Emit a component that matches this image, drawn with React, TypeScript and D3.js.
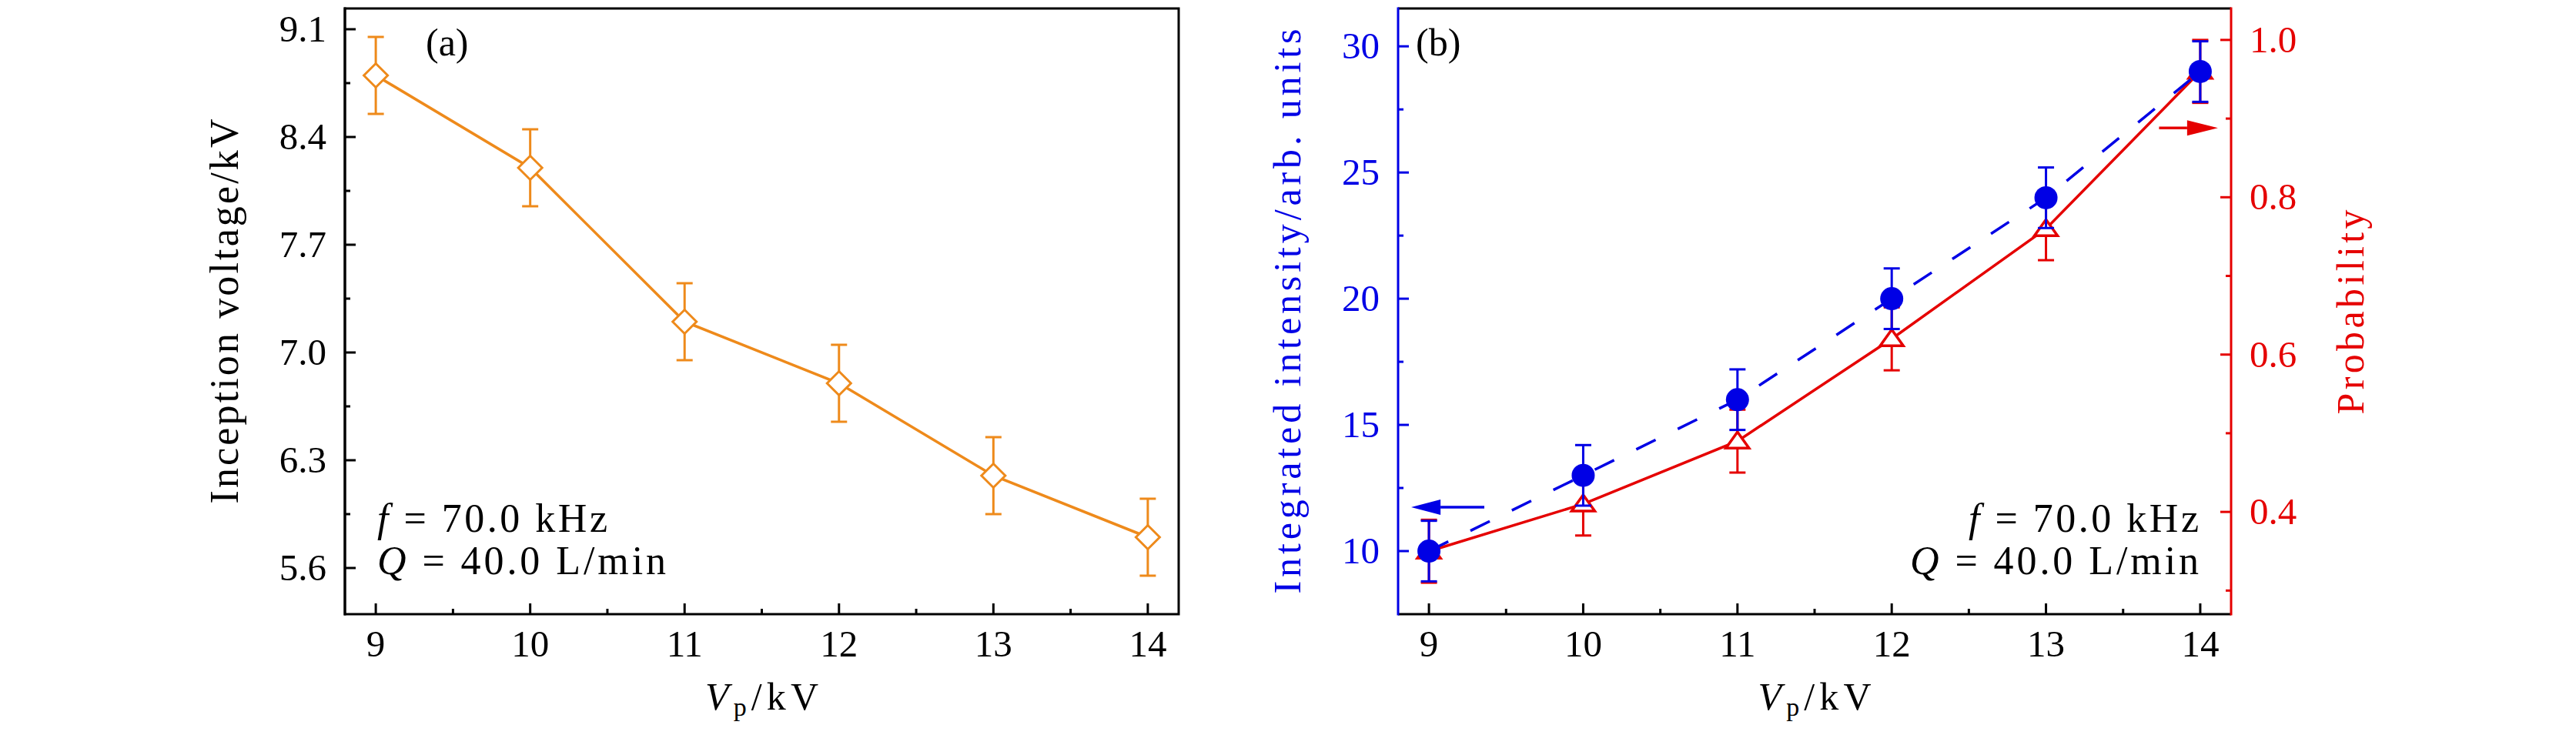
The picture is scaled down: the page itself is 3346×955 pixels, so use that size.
import * as d3 from 'd3';

const voltages = [9, 10, 11, 12, 13, 14];
const inceptionV = [8.8, 8.2, 7.2, 6.8, 6.2, 5.8];
const inceptionErr = [0.25, 0.25, 0.25, 0.25, 0.25, 0.25];
const intensity = [10, 13, 16, 20, 24, 29];
const intensityErr = [1.2, 1.2, 1.2, 1.2, 1.2, 1.2];
const probability = [0.35, 0.41, 0.49, 0.62, 0.76, 0.96];
const probabilityErr = [0.04, 0.04, 0.04, 0.04, 0.04, 0.04];

const xTicks = [9, 10, 11, 12, 13, 14];
const xMinor = [9.5, 10.5, 11.5, 12.5, 13.5];
const aTicks = [5.6, 6.3, 7.0, 7.7, 8.4, 9.1];
const aMinor = [5.95, 6.65, 7.35, 8.05, 8.75];
const bLeftTicks = [10, 15, 20, 25, 30];
const bLeftMinor = [12.5, 17.5, 22.5, 27.5];
const bRightTicks = [0.4, 0.6, 0.8, 1.0];
const bRightMinor = [0.3, 0.5, 0.7, 0.9];

const ORANGE = '#EE8A1B';
const BLUE = '#0000E5';
const RED = '#E50000';
const FONT = '"Liberation Serif", "Times New Roman", serif';

const W = 3346;
const H = 955;
const TOP = 11;
const BOTTOM = 798;
const MAJ = 14;
const MIN = 7;

const xA = d3.scaleLinear().domain([8.8, 14.2]).range([448, 1531]);
const xB = d3.scaleLinear().domain([8.8, 14.2]).range([1816, 2898]);
const yA = d3.scaleLinear().domain([5.3, 9.235]).range([BOTTOM, TOP]);
const yBL = d3.scaleLinear().domain([7.5, 31.5]).range([BOTTOM, TOP]);
const yBR = d3.scaleLinear().domain([0.27, 1.04]).range([BOTTOM, TOP]);

function XAxis({ x }: { x: d3.ScaleLinear<number, number> }) {
  return (
    <g>
      {xTicks.map((t) => (
        <g key={t}>
          <line x1={x(t)} x2={x(t)} y1={BOTTOM} y2={BOTTOM - MAJ} stroke="#000" strokeWidth={3} />
          <text x={x(t)} y={853} textAnchor="middle" fontSize={49}>{t}</text>
        </g>
      ))}
      {xMinor.map((t) => (
        <line key={t} x1={x(t)} x2={x(t)} y1={BOTTOM} y2={BOTTOM - MIN} stroke="#000" strokeWidth={3} />
      ))}
      <text x={(x.range()[0] + x.range()[1]) / 2} y={922} textAnchor="middle" fontSize={50} textLength={147} lengthAdjust="spacing">
        <tspan fontStyle="italic">V</tspan>
        <tspan fontSize={34} dy={8}>p</tspan>
        <tspan dy={-8}>/kV</tspan>
      </text>
    </g>
  );
}

function YAxis({ y, x0, side, ticks, minor, color, fmt }: {
  y: d3.ScaleLinear<number, number>; x0: number; side: 1 | -1; ticks: number[]; minor: number[]; color: string; fmt: (v: number) => string;
}) {
  return (
    <g>
      <line x1={x0} x2={x0} y1={TOP - 1.5} y2={BOTTOM + 1.5} stroke={color} strokeWidth={3} />
      {ticks.map((t) => (
        <g key={t}>
          <line x1={x0} x2={x0 + side * MAJ} y1={y(t)} y2={y(t)} stroke={color} strokeWidth={3} />
          <text x={x0 - side * 24} y={y(t)} dy="0.33em" textAnchor={side === 1 ? 'end' : 'start'} fontSize={49} fill={color}>{fmt(t)}</text>
        </g>
      ))}
      {minor.map((t) => (
        <line key={t} x1={x0} x2={x0 + side * MIN} y1={y(t)} y2={y(t)} stroke={color} strokeWidth={3} />
      ))}
    </g>
  );
}

function ErrorBars({ x, y, vals, errs, color }: {
  x: d3.ScaleLinear<number, number>; y: d3.ScaleLinear<number, number>; vals: number[]; errs: number[]; color: string;
}) {
  return (
    <g stroke={color} strokeWidth={3}>
      {voltages.map((v, i) => {
        const cx = x(v);
        const y1 = y(vals[i] + errs[i]);
        const y2 = y(vals[i] - errs[i]);
        return (
          <g key={v}>
            <line x1={cx} x2={cx} y1={y1} y2={y2} />
            <line x1={cx - 10.5} x2={cx + 10.5} y1={y1} y2={y1} />
            <line x1={cx - 10.5} x2={cx + 10.5} y1={y2} y2={y2} />
          </g>
        );
      })}
    </g>
  );
}

function Conditions({ x, right }: { x: number; right: boolean }) {
  const fx = right ? x - 299 : x;
  const qx = right ? x - 375 : x;
  return (
    <g fontSize={52}>
      <text x={fx} y={691} textLength={299} lengthAdjust="spacing">
        <tspan fontStyle="italic">f</tspan>
        <tspan>{' = 70.0 kHz'}</tspan>
      </text>
      <text x={qx} y={746} textLength={375} lengthAdjust="spacing">
        <tspan fontStyle="italic">Q</tspan>
        <tspan>{' = 40.0 L/min'}</tspan>
      </text>
    </g>
  );
}

function Arrow({ x1, xHead, xTip, y, color }: { x1: number; xHead: number; xTip: number; y: number; color: string }) {
  return (
    <g>
      <line x1={x1} x2={xHead} y1={y} y2={y} stroke={color} strokeWidth={3.5} />
      <path d={`M${xTip},${y}L${xHead},${y - 10}L${xHead},${y + 10}Z`} fill={color} />
    </g>
  );
}

export default function App() {
  const lineA = d3.line<number>().x((_, i) => xA(voltages[i])).y((d) => yA(d));
  const lineBL = d3.line<number>().x((_, i) => xB(voltages[i])).y((d) => yBL(d));
  const lineBR = d3.line<number>().x((_, i) => xB(voltages[i])).y((d) => yBR(d));

  const arrowBlueY = yBL(11.74);
  const arrowRedY = yBR(0.888);

  return (
    <svg width={W} height={H} style={{ position: 'absolute', left: 0, top: 0, background: '#fff' }} fontFamily={FONT}>
      {/* panel (a) */}
      <g>
        <rect x={448} y={TOP} width={1531 - 448} height={BOTTOM - TOP} fill="none" stroke="#000" strokeWidth={3} />
        <YAxis y={yA} x0={448} side={1} ticks={aTicks} minor={aMinor} color="#000" fmt={(v) => v.toFixed(1)} />
        <XAxis x={xA} />
        <text transform={`translate(309,${(TOP + BOTTOM) / 2}) rotate(-90)`} textAnchor="middle" fontSize={52} textLength={500} lengthAdjust="spacing">
          Inception voltage/kV
        </text>
        <path d={lineA(inceptionV) ?? ''} fill="none" stroke={ORANGE} strokeWidth={3.5} />
        <ErrorBars x={xA} y={yA} vals={inceptionV} errs={inceptionErr} color={ORANGE} />
        {inceptionV.map((v, i) => {
          const cx = xA(voltages[i]);
          const cy = yA(v);
          const r = 15.5;
          return (
            <path key={i} d={`M${cx},${cy - r}L${cx + r},${cy}L${cx},${cy + r}L${cx - r},${cy}Z`} fill="#fff" stroke={ORANGE} strokeWidth={3} />
          );
        })}
        <text x={553} y={72} fontSize={50}>(a)</text>
        <Conditions x={490} right={false} />
      </g>

      {/* panel (b) */}
      <g>
        <line x1={1816} x2={2898} y1={TOP} y2={TOP} stroke="#000" strokeWidth={3} />
        <line x1={1816} x2={2898} y1={BOTTOM} y2={BOTTOM} stroke="#000" strokeWidth={3} />
        <YAxis y={yBL} x0={1816} side={1} ticks={bLeftTicks} minor={bLeftMinor} color={BLUE} fmt={(v) => String(v)} />
        <YAxis y={yBR} x0={2898} side={-1} ticks={bRightTicks} minor={bRightMinor} color={RED} fmt={(v) => v.toFixed(1)} />
        <XAxis x={xB} />
        <text transform={`translate(1689,${(TOP + BOTTOM) / 2}) rotate(-90)`} textAnchor="middle" fontSize={50} fill={BLUE} textLength={734} lengthAdjust="spacing">
          Integrated intensity/arb. units
        </text>
        <text transform={`translate(3070,${(TOP + BOTTOM) / 2 + 1}) rotate(-90)`} textAnchor="middle" fontSize={50} fill={RED} textLength={266} lengthAdjust="spacing">
          Probability
        </text>

        <path d={lineBR(probability) ?? ''} fill="none" stroke={RED} strokeWidth={3.5} />
        <ErrorBars x={xB} y={yBR} vals={probability} errs={probabilityErr} color={RED} />
        {probability.map((v, i) => {
          const cx = xB(voltages[i]);
          const cy = yBR(v);
          return (
            <path key={i} d={`M${cx},${cy - 12}L${cx + 15},${cy + 9}L${cx - 15},${cy + 9}Z`} fill="#fff" stroke={RED} strokeWidth={3.5} strokeLinejoin="miter" />
          );
        })}

        <path d={lineBL(intensity) ?? ''} fill="none" stroke={BLUE} strokeWidth={3.5} strokeDasharray="28 32" />
        <ErrorBars x={xB} y={yBL} vals={intensity} errs={intensityErr} color={BLUE} />
        {intensity.map((v, i) => (
          <circle key={i} cx={xB(voltages[i])} cy={yBL(v)} r={15} fill={BLUE} />
        ))}

        <Arrow x1={xB(9.359)} xHead={xB(9.075)} xTip={xB(8.885)} y={arrowBlueY} color={BLUE} />
        <Arrow x1={xB(13.733)} xHead={xB(13.915)} xTip={xB(14.115)} y={arrowRedY} color={RED} />

        <text x={1839} y={72} fontSize={50}>(b)</text>
        <Conditions x={2856} right={true} />
      </g>
    </svg>
  );
}
